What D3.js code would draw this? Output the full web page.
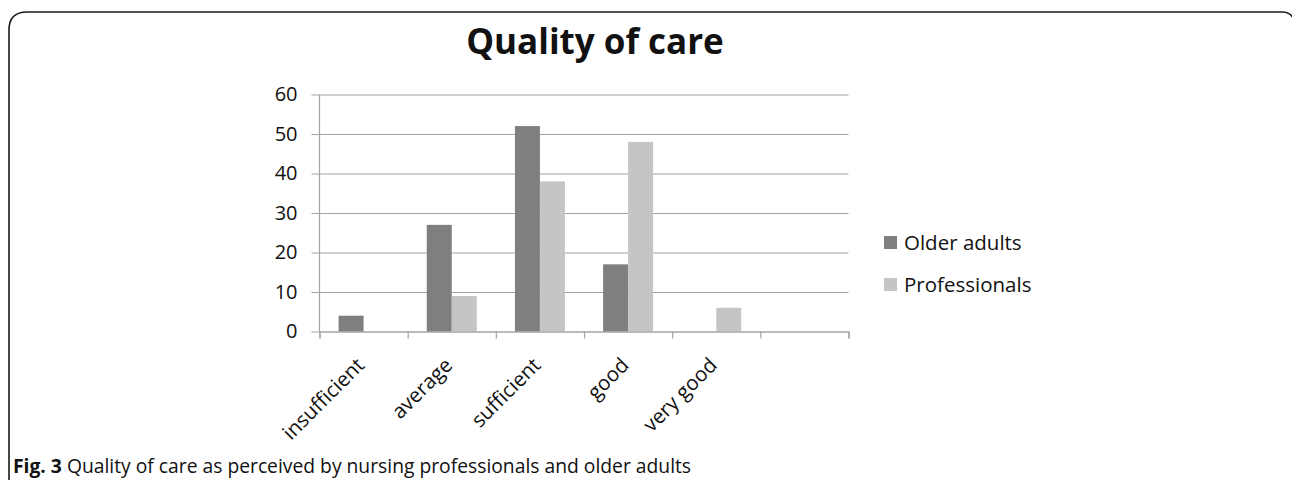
<!DOCTYPE html>
<html>
<head>
<meta charset="utf-8">
<script src="https://cdn.jsdelivr.net/npm/d3@7"></script>
<style>
  html, body { margin: 0; padding: 0; background: #fff; }
  svg { display: block; }
  text { font-family: "Open Sans", "Noto Sans", sans-serif; fill: #111; }
</style>
</head>
<body>
<div id="chart"></div>
<script>
const categories = ["insufficient", "average", "sufficient", "good", "very good", " "];
const seriesNames = ["Older adults", "Professionals"];
const olderAdults = [4, 27, 52, 17, 0, 0];
const professionals = [0, 9, 38, 48, 6, 0];
const yTicks = [0, 10, 20, 30, 40, 50, 60];
const colors = ["#7f7f7f", "#c4c5c5"];

const width = 1292;
const height = 480;
const margin = { top: 94.5, right: 443.5, bottom: 148.5, left: 319.5 };

const svg = d3.select("#chart")
  .append("svg")
  .attr("width", width)
  .attr("height", height);

// frame with rounded top corners, bottom runs off the page
svg.append("path")
  .attr("d", "M9,482 L9,30 Q9,12 27,12 L1282,12 Q1290,12 1293,18")
  .attr("fill", "none")
  .attr("stroke", "#1a1a1a")
  .attr("stroke-width", 1.6);

svg.append("text")
  .attr("x", 595)
  .attr("y", 54)
  .attr("text-anchor", "middle")
  .style("font-size", "35px")
  .style("font-weight", 700)
  .text("Quality of care");

const x = d3.scaleBand()
  .domain(categories)
  .range([margin.left, width - margin.right])
  .paddingInner(0)
  .paddingOuter(0);

const xSub = d3.scaleBand()
  .domain(seriesNames)
  .range([0, x.bandwidth()])
  .paddingInner(0)
  .paddingOuter(0.764);

const y = d3.scaleLinear()
  .domain([0, 60])
  .range([height - margin.bottom, margin.top]);

// gridlines + left labels
const yAxis = d3.axisLeft(y)
  .tickValues(yTicks)
  .tickSize(-(width - margin.right - margin.left))
  .tickPadding(22)
  .tickFormat(d3.format("d"));

const gy = svg.append("g")
  .attr("transform", `translate(${margin.left},0)`)
  .call(yAxis);
gy.select(".domain").remove();
gy.selectAll(".tick line")
  .attr("x1", -8)
  .attr("stroke", "#a3a3a3")
  .attr("stroke-width", 1.2);
gy.selectAll(".tick text")
  .style("font-size", "20px")
  .attr("fill", "#111");

svg.append("line")
  .attr("x1", margin.left).attr("x2", margin.left)
  .attr("y1", y(60)).attr("y2", y(0))
  .attr("stroke", "#a3a3a3")
  .attr("stroke-width", 1.2);

// bars
const rows = categories.map((c, i) => ({ cat: c, values: [olderAdults[i], professionals[i]] }));

svg.append("g")
  .selectAll("g")
  .data(rows)
  .join("g")
  .attr("transform", d => `translate(${x(d.cat)},0)`)
  .selectAll("rect")
  .data(d => d.values.map((v, k) => ({ key: seriesNames[k], value: v, k })))
  .join("rect")
  .attr("x", d => xSub(d.key))
  .attr("width", xSub.bandwidth())
  .attr("y", d => y(d.value))
  .attr("height", d => y(0) - y(d.value))
  .attr("fill", d => colors[d.k]);

// x axis: ticks at category boundaries
const xEdges = d3.scaleLinear()
  .domain([0, categories.length])
  .range([margin.left, width - margin.right]);

const gx = svg.append("g")
  .attr("transform", `translate(0,${y(0)})`)
  .call(d3.axisBottom(xEdges).ticks(categories.length).tickSize(7).tickFormat(""));
gx.select(".domain").attr("stroke", "#a3a3a3").attr("stroke-width", 1.2);
gx.selectAll(".tick line").attr("stroke", "#a3a3a3").attr("stroke-width", 1.2);

svg.append("g")
  .selectAll("text")
  .data(categories)
  .join("text")
  .attr("transform", d => `translate(${x(d) + x.bandwidth() / 2 + 2},${y(0) + 35}) rotate(-45)`)
  .attr("text-anchor", "end")
  .style("font-size", "20.5px")
  .text(d => d);

// legend
const legend = svg.append("g")
  .selectAll("g")
  .data(seriesNames)
  .join("g")
  .attr("transform", (d, i) => `translate(884,${243 + i * 42})`);

legend.append("rect")
  .attr("y", -7)
  .attr("width", 13)
  .attr("height", 13)
  .attr("fill", (d, i) => colors[i]);

legend.append("text")
  .attr("x", 20)
  .attr("dy", "0.35em")
  .style("font-size", "20.5px")
  .text(d => d);

// caption
const cap = svg.append("text")
  .attr("x", 13)
  .attr("y", 473)
  .style("font-size", "19.3px");
cap.append("tspan").style("font-weight", 700).text("Fig. 3");
cap.append("tspan").text(" Quality of care as perceived by nursing professionals and older adults");
</script>
</body>
</html>
